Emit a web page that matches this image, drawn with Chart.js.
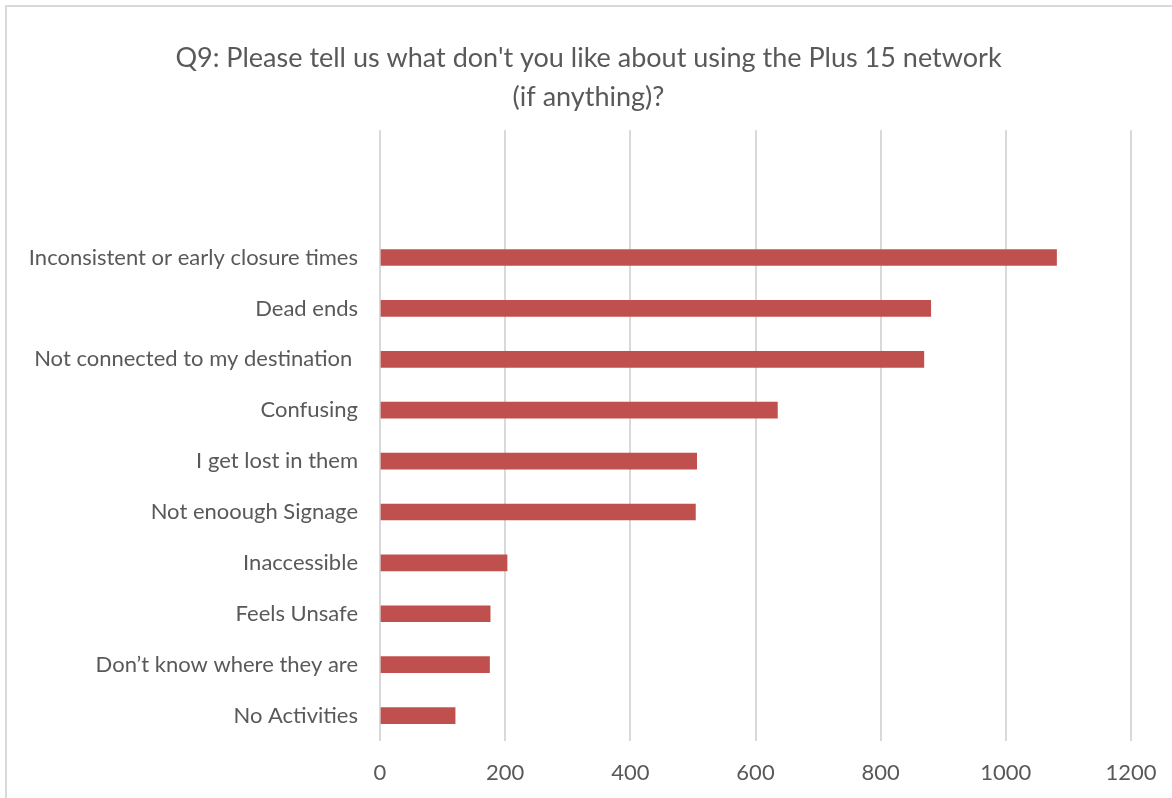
<!DOCTYPE html>
<html>
<head>
<meta charset="utf-8">
<script src="https://cdn.jsdelivr.net/npm/chart.js@4/dist/chart.umd.min.js"></script>
<style>
  html, body { margin: 0; padding: 0; background: #fff; overflow: hidden; }
  #frame { position: absolute; left: 5px; top: 5px; width: 1300px; height: 900px;
           border-left: 2px solid #d9d9d9; border-top: 2px solid #d9d9d9; }
  #wrap { position: absolute; left: 0; top: 0; width: 1172px; height: 798px; }
</style>
</head>
<body>
<div id="frame"></div>
<div id="wrap"><canvas id="chart"></canvas></div>
<script>
// Q9 responses, top to bottom as shown
const categories = [
  "Inconsistent or early closure times",
  "Dead ends",
  "Not connected to my destination ",
  "Confusing",
  "I get lost in them",
  "Not enoough Signage",
  "Inaccessible",
  "Feels Unsafe",
  "Don\u2019t know where they are",
  "No Activities",
];
const counts = [1081, 880, 869, 635, 506, 504, 203, 176, 175, 120];
const titleLines = [
  "Q9: Please tell us what don't you like about using the Plus 15 network",
  "(if anything)?",
];

// two empty rows above the bars, as in the original layout
const labels = ["", ""].concat(categories);
const values = [null, null].concat(counts);

const textColor = "#595959";
const font = "Lato, 'Open Sans', sans-serif";

new Chart(document.getElementById("chart"), {
  type: "bar",
  data: {
    labels,
    datasets: [{
      data: values,
      backgroundColor: "#c0504d",
      borderWidth: 0,
      barThickness: 16,
    }],
  },
  options: {
    indexAxis: "y",
    responsive: true,
    maintainAspectRatio: false,
    animation: false,
    layout: { padding: { left: 5, right: 0, top: 0, bottom: 0 } },
    plugins: {
      legend: { display: false },
      tooltip: { enabled: false },
      title: {
        display: true,
        text: titleLines,
        color: textColor,
        font: { family: font, size: 27, weight: "normal", lineHeight: 1.45 },
        padding: { top: 39, bottom: 13 },
      },
    },
    scales: {
      x: {
        min: 0,
        max: 1200,
        ticks: {
          stepSize: 200, color: textColor, font: { family: font, size: 22 }, padding: 19,
          callback: v => String(v),
        },
        grid: { color: "#d9d9d9", lineWidth: 2, drawTicks: false },
        border: { display: false },
        afterFit: s => { s.height = 57; s.paddingLeft = 0; s.paddingRight = 0; },
      },
      y: {
        ticks: { color: textColor, font: { family: font, size: 22 }, padding: 22 },
        grid: { display: false, drawTicks: false },
        border: { display: false },
        afterFit: s => { s.width = 375; },
      },
      // empty right-hand spacer so the title stays centred on the whole frame
      spacer: {
        type: "linear",
        axis: "y",
        position: "right",
        min: 0,
        max: 1,
        ticks: { display: false },
        grid: { display: false, drawTicks: false },
        border: { display: false },
        afterFit: s => { s.width = 41; },
      },
    },
  },
});
</script>
</body>
</html>
